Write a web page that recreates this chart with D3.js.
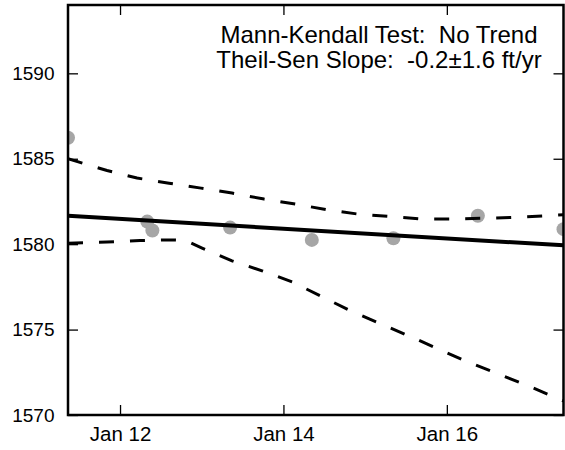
<!DOCTYPE html>
<html>
<head>
<meta charset="utf-8">
<script src="https://cdn.jsdelivr.net/npm/d3@7"></script>
<style>
  html, body { margin: 0; padding: 0; background: #fff; }
  svg { display: block; }
  text { font-family: "Liberation Sans", Arial, sans-serif; }
</style>
</head>
<body>
<script>
// ---- data ----
const obsDates = ["2015-01-11T08:43Z","2015-01-12T08:00Z","2015-01-12T09:30Z","2015-01-13T08:20Z",
                  "2015-01-14T08:20Z","2015-01-15T08:18Z","2015-01-16T09:07Z","2015-01-17T10:16Z"];
const obsValues = [1586.23, 1581.32, 1580.80, 1580.97, 1580.25, 1580.35, 1581.66, 1580.88];

const trendDates = ["2015-01-11T08:43Z","2015-01-17T10:16Z"];
const trendValues = [1581.66, 1579.93];

const upperDates = ["2015-01-11T08:43Z","2015-01-11T20:11Z","2015-01-12T05:00Z","2015-01-12T14:24Z",
                    "2015-01-12T23:48Z","2015-01-13T08:54Z","2015-01-13T18:19Z","2015-01-14T03:43Z",
                    "2015-01-14T12:50Z","2015-01-14T21:56Z","2015-01-15T07:21Z","2015-01-15T16:28Z",
                    "2015-01-16T01:51Z","2015-01-16T11:34Z","2015-01-16T20:57Z","2015-01-17T06:39Z",
                    "2015-01-17T10:16Z"];
const upperValues = [1585.00, 1584.31, 1583.87, 1583.57, 1583.28, 1582.99, 1582.64, 1582.34,
                     1582.01, 1581.76, 1581.62, 1581.48, 1581.48, 1581.52, 1581.58, 1581.68, 1581.72];

const lowerDates = ["2015-01-11T08:43Z","2015-01-11T20:11Z","2015-01-12T05:53Z","2015-01-12T15:00Z",
                    "2015-01-12T19:06Z","2015-01-13T00:06Z","2015-01-13T08:54Z","2015-01-13T17:44Z",
                    "2015-01-14T02:33Z","2015-01-14T19:35Z","2015-01-15T12:37Z","2015-01-16T05:58Z",
                    "2015-01-16T23:18Z","2015-01-17T10:16Z"];
const lowerValues = [1580.06, 1580.12, 1580.21, 1580.25, 1580.22, 1579.77, 1579.02, 1578.44,
                     1577.79, 1576.11, 1574.65, 1573.12, 1571.76, 1570.82];

const xTickDates = ["2015-01-12T00:00Z","2015-01-14T00:00Z","2015-01-16T00:00Z"];
const xTickLabels = ["Jan 12","Jan 14","Jan 16"];
const yTicks = [1570, 1575, 1580, 1585, 1590];
const yDomain = [1570, 1594];
const annotation = ["Mann-Kendall Test:  No Trend", "Theil-Sen Slope:  -0.2\u00B11.6 ft/yr"];

// ---- drawing ----
const W = 565, H = 450;
const L = 68, R = 563.5, T = 5, B = 415;
const parse = s => new Date(s);

const svg = d3.select("body").append("svg").attr("width", W).attr("height", H);

const x = d3.scaleUtc().domain([parse(obsDates[0]), parse(obsDates[obsDates.length - 1])]).range([L, R]);
const y = d3.scaleLinear().domain(yDomain).range([B, T]);

svg.append("defs").append("clipPath").attr("id", "plotclip")
  .append("rect").attr("x", L).attr("y", T).attr("width", R - L).attr("height", B - T);

const plot = svg.append("g").attr("clip-path", "url(#plotclip)");

// points
plot.selectAll("circle.obs")
  .data(obsDates.map((d, i) => ({ d: parse(d), v: obsValues[i] })))
  .join("circle")
  .attr("class", "obs")
  .attr("cx", p => x(p.d)).attr("cy", p => y(p.v)).attr("r", 7)
  .attr("fill", "#a6a6a6");

const line = d3.line().x(p => x(p.d)).y(p => y(p.v));
const toPts = (ds, vs) => ds.map((d, i) => ({ d: parse(d), v: vs[i] }));

plot.append("path").datum(toPts(upperDates, upperValues))
  .attr("d", line).attr("fill", "none").attr("stroke", "#000")
  .attr("stroke-width", 3).attr("stroke-dasharray", "15,16");
plot.append("path").datum(toPts(lowerDates, lowerValues))
  .attr("d", line).attr("fill", "none").attr("stroke", "#000")
  .attr("stroke-width", 3).attr("stroke-dasharray", "15,16");
plot.append("path").datum(toPts(trendDates, trendValues))
  .attr("d", line).attr("fill", "none").attr("stroke", "#000")
  .attr("stroke-width", 4);

// axes (ticks inward)
const tickDates = xTickDates.map(parse);
const fmt = d => xTickLabels[tickDates.findIndex(t => +t === +d)];

const xb = svg.append("g").attr("transform", `translate(0,${B})`)
  .call(d3.axisBottom(x).tickValues(tickDates).tickFormat(fmt).tickSizeInner(-10).tickSizeOuter(0).tickPadding(11.5));
const xt = svg.append("g").attr("transform", `translate(0,${T})`)
  .call(d3.axisTop(x).tickValues(tickDates).tickFormat("").tickSizeInner(-10).tickSizeOuter(0));
const yl = svg.append("g").attr("transform", `translate(${L},0)`)
  .call(d3.axisLeft(y).tickValues(yTicks).tickFormat(d3.format("d")).tickSizeInner(-10).tickSizeOuter(0).tickPadding(13.5));
const yr = svg.append("g").attr("transform", `translate(${R},0)`)
  .call(d3.axisRight(y).tickValues(yTicks).tickFormat("").tickSizeInner(-10).tickSizeOuter(0));

[xb, xt, yl, yr].forEach(g => {
  g.select(".domain").remove();
  g.selectAll(".tick line").attr("stroke", "#000").attr("stroke-width", 1.3);
  g.selectAll("text").attr("fill", "#000")
    .style("font-family", "'Liberation Sans', Arial, sans-serif");
});
xb.selectAll("text").style("font-size", "20.5px");
yl.selectAll("text").style("font-size", "19px");

// frame
svg.append("rect").attr("x", L).attr("y", T).attr("width", R - L).attr("height", B - T)
  .attr("fill", "none").attr("stroke", "#000").attr("stroke-width", 2.5);

// annotation
svg.selectAll("text.ann").data(annotation).join("text")
  .attr("class", "ann")
  .attr("x", 379).attr("y", (d, i) => 43 + i * 25)
  .attr("text-anchor", "middle")
  .style("white-space", "pre")
  .style("font-size", "24px")
  .attr("fill", "#000")
  .text(d => d);
</script>
</body>
</html>
